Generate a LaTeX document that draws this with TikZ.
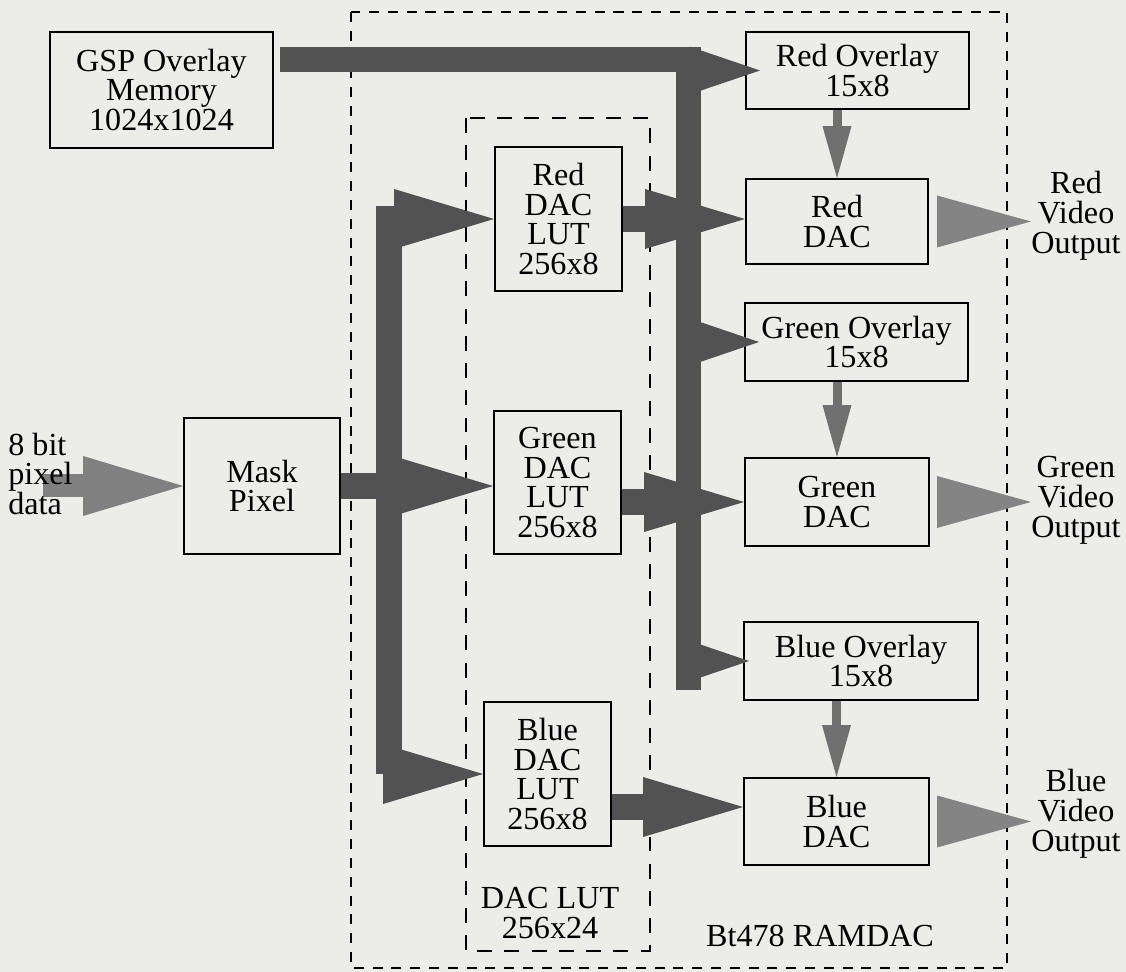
\documentclass[tikz,border=0pt]{standalone}
\usepackage{fontspec}
\setmainfont{Liberation Serif}
\usetikzlibrary{arrows.meta, calc}
\definecolor{paper}{RGB}{236, 236, 232}
\definecolor{buscol}{RGB}{82, 82, 82}
\definecolor{incol}{RGB}{128, 128, 128}
\definecolor{ovcol}{RGB}{112, 112, 112}
\definecolor{outcol}{RGB}{132, 132, 132}
\tikzset{
  block/.style={draw, line width=1.1pt, align=center, inner sep=0pt,
                font=\fontsize{18.3}{17}\selectfont},
  txt/.style={align=center, inner sep=0pt, font=\fontsize{18.3}{17}\selectfont},
  region/.style={draw, line width=1.3pt, dash pattern=on 5.7pt off 5pt},
  bus/.style={draw=buscol, line width=0.52cm,
              -{Triangle[length=2cm, width=1.2cm, line width=0pt]}},
  ovbus/.style={draw=buscol, line width=0.5cm,
                -{Triangle[length=1.4cm, width=0.95cm, line width=0pt]}},
  ovarr/.style={draw=ovcol, line width=0.18cm,
                -{Triangle[length=1.04cm, width=0.58cm, line width=0pt]}},
  outarr/.style={draw=outcol, line width=0.1cm,
                 -{Triangle[length=1.88cm, width=1.04cm, line width=0pt]}},
}

\begin{document}
\begin{tikzpicture}[x=0.02cm, y=-0.02cm]
  \fill[paper] (0,0) rectangle (1126,972);

  % RAMDAC and LUT regions
  \draw[region] (351,12) rectangle (1007,968);
  \draw[region, dash pattern=on 8.5pt off 7pt] (466,118) rectangle (650,951);
  \node[txt] (ramdac) at (820,936) {Bt478 RAMDAC};
  \node[txt] (lutlbl) at (550,913) {DAC LUT\\256x24};

  \node[block, minimum width=4.46cm, minimum height=2.32cm] (gsp) at (161.5,90) {GSP Overlay\\Memory\\1024x1024};
  \node[block, minimum width=3.12cm, minimum height=2.72cm] (mask) at (262,486) {Mask\\Pixel};

  \node[block, minimum width=2.54cm, minimum height=2.88cm] (redlut) at (558.5,219) {Red\\DAC\\LUT\\256x8};
  \node[block, minimum width=2.54cm, minimum height=2.86cm] (greenlut) at (557.5,482.5) {Green\\DAC\\LUT\\256x8};
  \node[block, minimum width=2.54cm, minimum height=2.88cm] (bluelut) at (547.5,774) {Blue\\DAC\\LUT\\256x8};

  \node[block, minimum width=4.46cm, minimum height=1.54cm] (redov) at (857.5,70.5) {Red Overlay\\15x8};
  \node[block, minimum width=3.64cm, minimum height=1.70cm] (reddac) at (837,221.5) {Red\\DAC};
  \node[block, minimum width=4.46cm, minimum height=1.56cm] (greenov) at (856.5,342) {Green Overlay\\15x8};
  \node[block, minimum width=3.68cm, minimum height=1.76cm] (greendac) at (837,502) {Green\\DAC};
  \node[block, minimum width=4.68cm, minimum height=1.56cm] (blueov) at (861,661) {Blue Overlay\\15x8};
  \node[block, minimum width=3.70cm, minimum height=1.74cm] (bluedac) at (836.5,821.5) {Blue\\DAC};

  \node[txt] (redvid) at (1076,216) {Red\\Video\\Output};
  \node[txt] (greenvid) at (1076,500) {Green\\Video\\Output};
  \node[txt] (bluevid) at (1076,814) {Blue\\Video\\Output};

  % pixel path
  \coordinate (src) at (43,486);
  \coordinate (split) at (389,486);
  \draw[bus, draw=incol, line width=0.46cm] (src) -- (mask.west);
  \node[txt, align=left, anchor=west] (pixin) at (8,474) {8 bit\\pixel\\data};
  \draw[bus] (split) |- (redlut.west);
  \draw[bus] (split) |- (bluelut.west);
  \draw[bus] (mask.east) -- (mask.east -| greenlut.west);

  % overlay bus
  \coordinate (ovbus) at (688,60);
  \coordinate (ovend) at (688,690);
  \draw[buscol, line width=0.5cm, shorten <=0.12cm] (gsp.east |- ovbus) -- (ovbus) -- (ovend);
  \draw[ovbus] (ovbus |- redov.west) -- ([xshift=0.3cm]redov.west);
  \draw[ovbus] (ovbus |- greenov.west) -- ([xshift=0.3cm]greenov.west);
  \draw[ovbus] (ovbus |- blueov.west) -- ([xshift=0.12cm]blueov.west);

  % LUT to DAC
  \coordinate (bl) at ([yshift=-0.66cm]bluelut.east);
  \draw[bus] (redlut.east) -- (redlut.east -| reddac.west);
  \draw[bus] (greendac.west -| greenlut.east) -- (greendac.west);
  \draw[bus] (bl) -- (bl -| bluedac.west);

  \draw[ovarr] (redov.south -| reddac.north) -- (reddac.north);
  \draw[ovarr] (greenov.south -| greendac.north) -- (greendac.north);
  \draw[ovarr] (blueov.south -| bluedac.north) -- (bluedac.north);

  % video outputs
  \draw[outarr] ([xshift=0.22cm]reddac.east) -- (reddac.east -| redvid.west);
  \draw[outarr] ([xshift=0.22cm]greendac.east) -- (greendac.east -| greenvid.west);
  \draw[outarr] ([xshift=0.22cm]bluedac.east) -- (bluedac.east -| bluevid.west);
\end{tikzpicture}
\end{document}
